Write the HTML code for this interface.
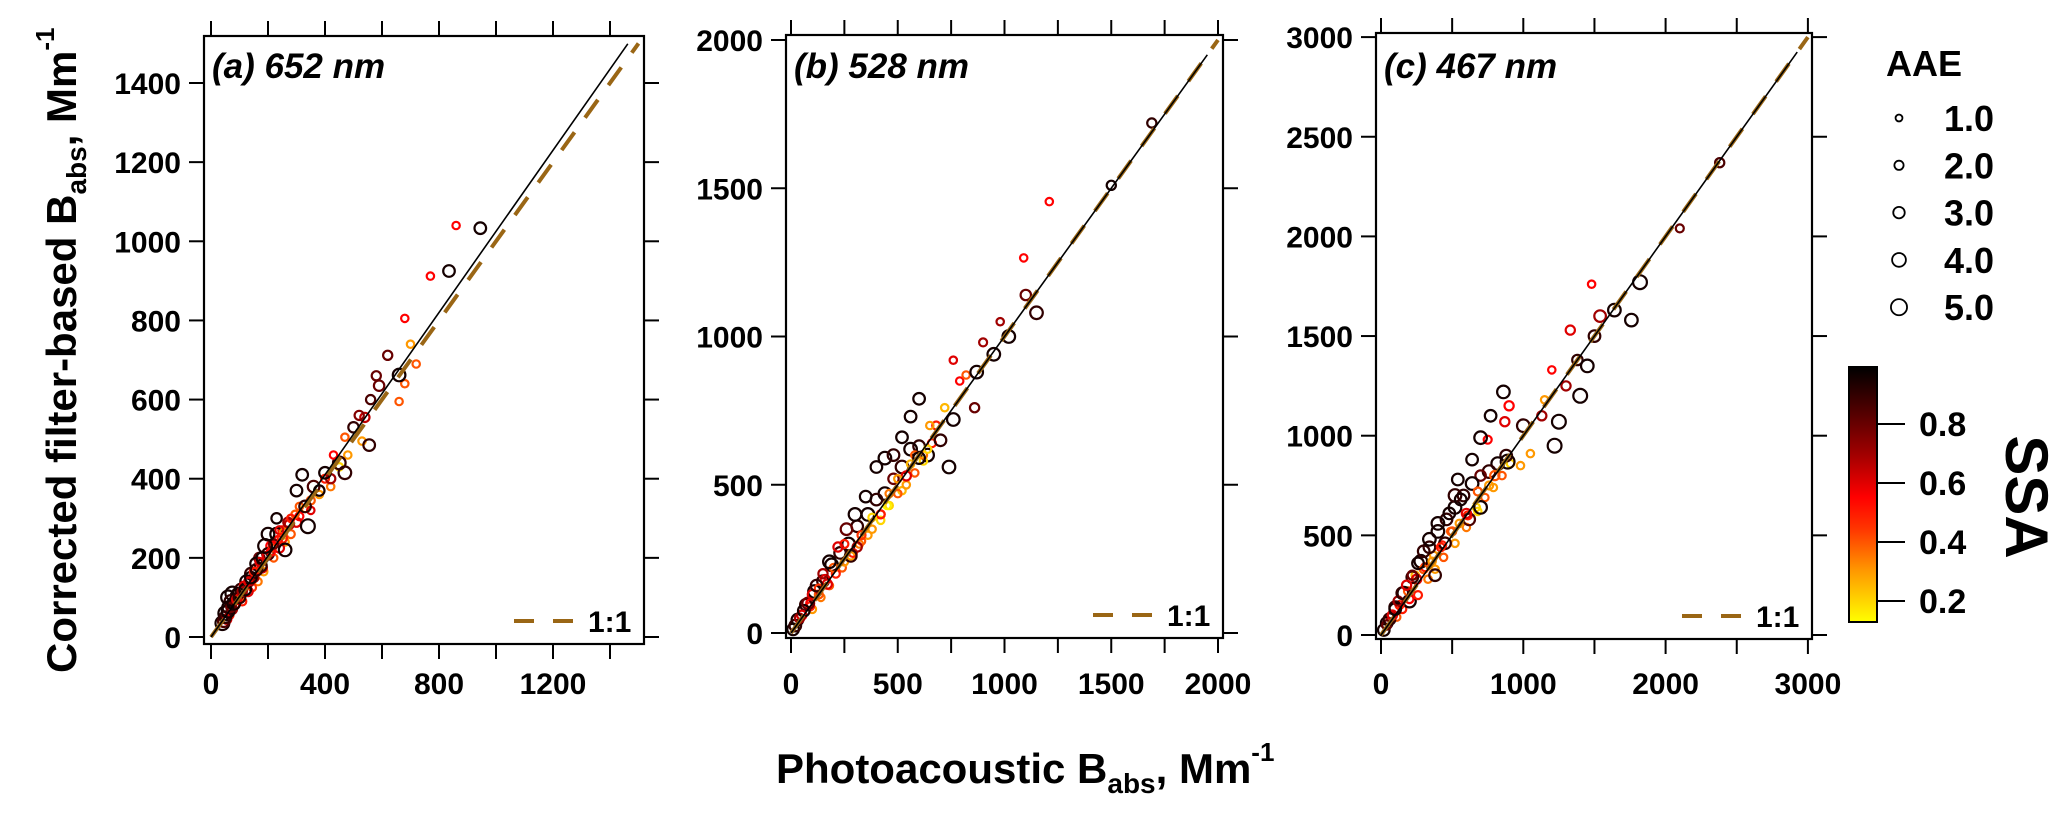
<!DOCTYPE html>
<html><head><meta charset="utf-8"><style>
html,body{margin:0;padding:0;background:#fff;}
svg{display:block;font-family:"Liberation Sans",Arial,sans-serif;}
</style></head><body>
<svg id="fig" width="2067" height="813" viewBox="0 0 2067 813" xmlns="http://www.w3.org/2000/svg">
<defs>
<linearGradient id="cbgrad" x1="0" y1="1" x2="0" y2="0">
<stop offset="0" stop-color="#ffff00"/><stop offset="0.2" stop-color="#ff9900"/><stop offset="0.37" stop-color="#ff3300"/><stop offset="0.49" stop-color="#ff0000"/><stop offset="0.66" stop-color="#a00000"/><stop offset="0.84" stop-color="#4a0000"/><stop offset="1" stop-color="#000000"/>
</linearGradient>
</defs>
<g id="panels"></g>
<text transform="translate(76,673) rotate(-90)" font-size="42" font-weight="bold">Corrected filter-based B<tspan font-size="28" dy="10">abs</tspan><tspan dy="-10">, Mm</tspan><tspan font-size="26" dy="-22">-1</tspan></text>
<text x="776" y="783" font-size="42" font-weight="bold">Photoacoustic B<tspan font-size="28" dy="10">abs</tspan><tspan dy="-10">, Mm</tspan><tspan font-size="26" dy="-22">-1</tspan></text>
<g id="aaeLegend">
<text x="1886" y="76" font-size="36" font-weight="bold">AAE</text>
</g>
<g id="cbar">
<rect x="1849" y="367" width="28" height="255" fill="url(#cbgrad)" stroke="#000" stroke-width="2"/>
<text transform="translate(2006,497) rotate(90)" text-anchor="middle" font-size="60" font-weight="bold">SSA</text>
</g>
</svg>
<script>
// ---- data ----
const aX=[945,860,835,770,680,700,720,620,660,680,660,580,590,560,520,540,500,555,530,470,430,450,470,400,420,380,320,300,330,310,340,350,280,230,200,190,260,250,270,240,220,210,180,170,160,150,140,130,120,110,100,90,80,70,60,50,45,40,95,115,135,155,175,195,215,235,255,275,295,360,
 50,55,60,65,70,75,85,90,100,105,110,125,130,140,145,150,160,165,170,180,185,200,210,220,230,240,250,260,280,300,310,330,350,380,400,420,450,480,60,75];
const aY=[1033,1040,925,912,805,740,690,712,662,640,595,660,635,600,560,555,530,485,495,505,460,440,415,415,400,370,410,370,330,330,280,320,300,300,260,230,220,250,290,270,235,215,200,190,170,165,150,140,120,115,100,95,85,75,65,50,40,35,110,130,140,165,180,205,225,245,265,285,310,380,
 60,45,75,55,90,70,80,105,95,120,90,140,115,160,125,150,185,140,200,175,165,210,230,200,260,225,270,240,260,290,305,325,345,360,400,380,430,460,100,110];
const aSSA=[.95,.55,.95,.55,.55,.3,.4,.8,.95,.4,.4,.8,.8,.85,.75,.65,.9,.9,.3,.4,.55,.9,.9,.95,.7,.95,.95,.95,.9,.4,.95,.6,.5,.95,.95,.95,.95,.5,.7,.6,.8,.55,.95,.6,.9,.5,.95,.6,.95,.7,.9,.6,.95,.8,.95,.9,.85,.95,.95,.6,.7,.5,.9,.6,.45,.55,.35,.65,.4,.85,
 .95,.6,.95,.5,.9,.7,.55,.95,.4,.9,.5,.95,.6,.9,.45,.7,.95,.35,.8,.6,.3,.9,.55,.4,.95,.6,.5,.3,.4,.6,.55,.25,.4,.3,.5,.35,.2,.3,.95,.95];
const aAAE=[3,1.2,3,1.2,1.2,1.2,1.2,2,3.5,1.2,1.2,2,2.5,2,2,2,2.5,3,1.2,1.2,1.2,3.5,3.5,3,2,2.5,3,3,3,1.2,4,1.2,1.2,2.5,3.5,4,3.5,2,2,1.5,2,1.5,3,1.5,3,1.5,3,1.5,3,2,3,2,3.5,2,3.5,3,3,4,3,1.5,2,1.5,3,1.5,1.2,1.5,1.2,2,1.2,3,
 4,2,3,1.5,3.5,2,1.5,3,1.2,3,1.5,3.5,2,3,1.2,2,3.5,1.2,2.5,2,1.2,3,2,1.2,3.5,2,1.5,1.2,1.5,2,1.5,1.2,1.5,1.2,1.5,1.2,1.2,1.2,4,4];

const bX=[1690,1500,1210,1090,1100,1150,1020,980,950,900,870,860,820,760,790,760,740,600,560,520,650,600,560,700,480,440,400,350,300,260,220,180,150,120,100,80,60,40,20,10,330,380,420,460,500,540,580,640,680,720,250,200,160,130,90,280,310,360,450,620,
 30,50,70,90,110,130,150,170,190,210,230,250,270,290,310,330,360,380,400,420,440,460,480,500,520,540,560,580,600,620,640,660,180,140,100,240,280,320,420,520];
const bY=[1720,1510,1455,1265,1140,1080,1000,1050,940,980,880,760,870,920,850,720,560,790,730,660,700,590,570,650,600,590,560,460,400,350,290,240,200,160,130,100,75,50,25,12,330,390,400,470,520,530,600,620,700,760,300,220,180,150,100,260,290,330,430,600,
 45,60,95,90,140,130,175,165,230,200,270,240,300,270,360,310,400,350,450,400,470,430,520,470,560,500,620,540,630,580,600,640,160,120,80,220,260,300,380,480];
const bSSA=[.9,.95,.55,.55,.8,.9,.95,.7,.95,.7,.95,.8,.4,.6,.55,.95,.95,.95,.95,.95,.3,.95,.25,.9,.9,.95,.95,.95,.95,.8,.6,.95,.7,.9,.6,.8,.95,.7,.9,.95,.45,.2,.5,.35,.3,.6,.4,.2,.5,.25,.5,.4,.6,.45,.55,.9,.7,.3,.15,.35,
 .95,.6,.9,.5,.95,.4,.9,.6,.95,.5,.9,.3,.95,.5,.9,.4,.95,.3,.9,.5,.95,.2,.8,.4,.9,.3,.95,.4,.9,.2,.95,.5,.4,.35,.3,.4,.3,.35,.2,.25];
const bAAE=[2,2,1.2,1.2,2.5,3.5,3.5,1.2,3.5,1.5,3.5,2,1.2,1.2,1.2,3.5,3.5,3,3,3,1.2,3,1.2,3,3,3.5,3,3,3.5,3,2,3.5,2,3,2,3,3,2,3,3,1.5,1.2,1.5,1.2,1.2,2,1.2,1.2,1.5,1.2,1.5,1.5,2,1.5,1.5,3,2,1.2,1.2,1.2,
 3,2,3,1.5,3.5,1.5,3,2,3.5,1.5,3,1.2,3.5,1.5,3,1.2,3.5,1.2,3,1.5,3.5,1.2,2.5,1.2,3.5,1.2,3.5,1.2,3,1.2,3.5,1.5,1.2,1.2,1.2,1.2,1.2,1.2,1.2,1.2];

const cX=[1480,1540,1640,1760,1820,2100,2380,1330,1500,1450,1380,1400,1300,1200,1250,1220,1130,1150,1000,900,860,870,770,700,750,980,1050,890,800,640,540,560,520,760,700,600,480,400,340,300,260,220,180,150,120,100,80,60,40,20,300,360,420,500,260,200,620,680,450,380,
 40,70,100,130,160,190,220,250,280,310,340,370,400,430,460,490,520,550,580,610,640,670,700,730,760,790,820,850,880,910,200,150,110,330,380,440,520,600,680,240];
const cY=[1760,1600,1630,1580,1770,2040,2370,1530,1500,1350,1380,1200,1250,1330,1070,950,1100,1180,1050,1150,1220,1070,1100,990,980,850,910,870,800,880,780,680,700,750,640,610,610,560,480,420,360,300,250,210,170,130,100,80,50,25,330,370,440,520,200,180,580,720,460,300,
 60,90,140,150,210,220,290,280,370,340,440,400,520,450,580,520,640,560,700,600,760,640,800,690,820,740,860,800,900,860,170,130,90,280,330,390,460,540,620,300];
const cSSA=[.55,.7,.95,.95,.95,.8,.85,.6,.9,.95,.9,.95,.7,.55,.95,.95,.7,.3,.9,.55,.95,.6,.95,.95,.55,.3,.3,.95,.4,.95,.95,.95,.9,.3,.95,.6,.95,.95,.95,.9,.95,.8,.6,.9,.7,.95,.6,.9,.8,.95,.4,.3,.5,.4,.5,.55,.85,.4,.9,.9,
 .95,.6,.9,.5,.95,.4,.9,.6,.95,.5,.9,.3,.95,.5,.9,.4,.95,.3,.9,.5,.95,.2,.8,.4,.9,.3,.95,.4,.9,.2,.95,.5,.4,.35,.3,.4,.3,.35,.2,.25];
const cAAE=[1.2,3,3.5,3.5,4,1.5,2,2,3,3.5,2.5,4,2,1.2,4,4,2,1.2,3.5,2,3.5,2,3,3.5,1.5,1.2,1.2,4,2,3,3,3,3.5,1.5,3.5,2,3,3.5,3.5,3,3,2,2,3,2,3,2,3,2,3,1.5,1.2,1.5,1.5,1.5,1.5,3,1.5,3,3,
 3,2,3,1.5,3.5,1.5,3,2,3.5,1.5,3,1.2,3.5,1.5,3,1.2,3.5,1.2,3,1.5,3.5,1.2,2.5,1.2,3.5,1.2,3.5,1.2,3,1.2,3.5,1.5,1.2,1.2,1.2,1.2,1.2,1.2,1.2,1.2];

const panelTitles=["(a) 652 nm","(b) 528 nm","(c) 467 nm"];
const fitSlopes=[1.025,1.0,1.0];
const xMajorA=[0,400,800,1200], xMinorA=[200,600,1000,1400];
const yTicksA=[0,200,400,600,800,1000,1200,1400];
const xMajorB=[0,500,1000,1500,2000], xMinorB=[250,750,1250,1750];
const yTicksB=[0,500,1000,1500,2000];
const xMajorC=[0,1000,2000,3000], xMinorC=[500,1500,2500];
const yTicksC=[0,500,1000,1500,2000,2500,3000];
const aaeLegendValues=[1.0,2.0,3.0,4.0,5.0];
const ssaTicks=[0.2,0.4,0.6,0.8];

// ---- layout (not data) ----
const NS="http://www.w3.org/2000/svg";
function mk(tag,attrs,parent){const e=document.createElementNS(NS,tag);for(const k in attrs)e.setAttribute(k,attrs[k]);if(parent)parent.appendChild(e);return e;}
const panels=[
 {L:204,R:644,T:36,B:644,x0:211,xs:0.285,y0:637,ys:554/1400,xmax:1500,xs_:[aX,aY,aSSA,aAAE],xMaj:xMajorA,xMin:xMinorA,yT:yTicksA},
 {L:786,R:1223,T:35,B:638,x0:791,xs:0.2135,y0:633,ys:0.2965,xmax:2000,xs_:[bX,bY,bSSA,bAAE],xMaj:xMajorB,xMin:xMinorB,yT:yTicksB},
 {L:1376,R:1812,T:33,B:639,x0:1381,xs:0.1423,y0:635,ys:0.1993,xmax:3000,xs_:[cX,cY,cSSA,cAAE],xMaj:xMajorC,xMin:xMinorC,yT:yTicksC}
];
const stops=[[0.13,[255,255,0]],[0.3,[255,153,0]],[0.45,[255,51,0]],[0.55,[255,0,0]],[0.7,[160,0,0]],[0.85,[74,0,0]],[0.99,[0,0,0]]];
function ssaColor(s){
 if(s<=stops[0][0])return 'rgb(255,255,0)';
 for(let i=1;i<stops.length;i++){if(s<=stops[i][0]){const a=stops[i-1],b=stops[i],t=(s-a[0])/(b[0]-a[0]);const c=a[1].map((v,j)=>Math.round(v+(b[1][j]-v)*t));return `rgb(${c})`;}}
 return 'rgb(0,0,0)';
}
function rad(aae){return 2.3+1.15*aae;}
const root=document.getElementById('panels');
const names=['a','b','c'];
panels.forEach((p,pi)=>{
 const X=v=>p.x0+v*p.xs, Y=v=>p.y0-v*p.ys;
 const g=mk('g',{},root);
 
 
 const [dx,dy,ds,da]=p.xs_;
 const pts=mk('g',{},g);
 
 
 for(let i=dx.length-1;i>=0;i--){
  const c=mk('circle',{cx:X(dx[i]).toFixed(1),cy:Y(dy[i]).toFixed(1),r:rad(da[i]).toFixed(1),fill:'none',stroke:ssaColor(ds[i]),'stroke-width':2.2},pts);
  
  
 }
 const one=mk('line',{x1:X(0),y1:Y(0),x2:X(p.xmax),y2:Y(p.xmax),stroke:'#9a6615','stroke-width':4,'stroke-dasharray':'22 18'},g);
 
 
 const fm=p.xmax*0.975;
 const fit=mk('line',{x1:X(0),y1:Y(0),x2:X(fm),y2:Y(fm*fitSlopes[pi]),stroke:'#000','stroke-width':1.6},g);
 
 
 const fr=mk('rect',{x:p.L,y:p.T,width:p.R-p.L,height:p.B-p.T,fill:'none',stroke:'#000','stroke-width':2.2},g);
 
 
 const tk=mk('g',{stroke:'#000','stroke-width':2},g);
 
 
 p.xMaj.concat(p.xMin).forEach(v=>{mk('line',{x1:X(v),x2:X(v),y1:p.B,y2:p.B+15},tk);mk('line',{x1:X(v),x2:X(v),y1:p.T,y2:p.T-15},tk);});
 p.yT.forEach(v=>{mk('line',{x1:p.L,x2:p.L-15,y1:Y(v),y2:Y(v)},tk);mk('line',{x1:p.R,x2:p.R+15,y1:Y(v),y2:Y(v)},tk);});
 p.xMaj.forEach(v=>{const t=mk('text',{x:X(v),y:694,'text-anchor':'middle','font-size':30,'font-weight':'bold'},g);t.textContent=v;
  
  });
 p.yT.forEach(v=>{const t=mk('text',{x:p.L-23,y:Y(v)+11,'text-anchor':'end','font-size':30,'font-weight':'bold'},g);t.textContent=v;
  
  });
 const ti=mk('text',{x:p.L+8,y:78,'font-size':35,'font-weight':'bold','font-style':'italic'},g);ti.textContent=panelTitles[pi];
 
 
 const lg=mk('g',{},g);
 
 
 mk('line',{x1:p.R-130,x2:p.R-70,y1:p.B-23,y2:p.B-23,stroke:'#9a6615','stroke-width':4,'stroke-dasharray':'20 19'},lg);
 const lt=mk('text',{x:p.R-56,y:p.B-12,'font-size':30,'font-weight':'bold'},lg);lt.textContent='1:1';
});
const al=document.getElementById('aaeLegend');
aaeLegendValues.forEach((v,i)=>{
 const y=118+i*47.3;
 const c=mk('circle',{cx:1899,cy:y,r:rad(v),fill:'none',stroke:'#000','stroke-width':1.8},al);
 
 
 const t=mk('text',{x:1944,y:y+13,'font-size':36,'font-weight':'bold'},al);t.textContent=v.toFixed(1);
 
 
});
const cb=document.getElementById('cbar');
const cbY=s=>601-(s-0.2)*295;
ssaTicks.forEach(s=>{
 mk('line',{x1:1877,x2:1905,y1:cbY(s),y2:cbY(s),stroke:'#000','stroke-width':2},cb);
 const t=mk('text',{x:1919,y:cbY(s)+12,'font-size':34,'font-weight':'bold'},cb);t.textContent=s.toFixed(1);
 
 
});
</script>
</body></html>
